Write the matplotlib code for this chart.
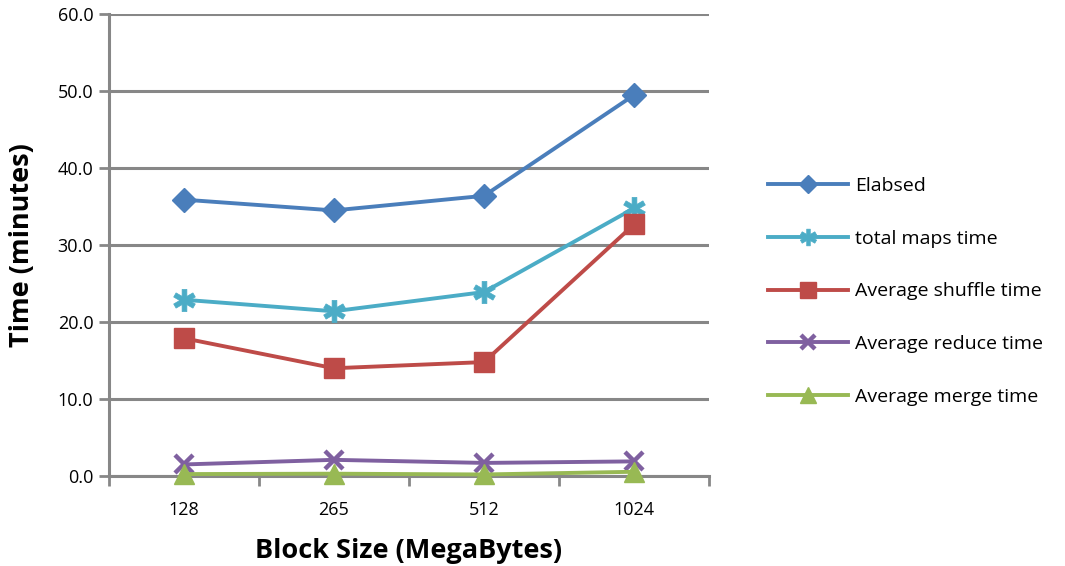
import matplotlib
matplotlib.use("Agg")
import matplotlib.pyplot as plt
from matplotlib.lines import Line2D

categories = ["128", "265", "512", "1024"]
elabsed = [35.9, 34.5, 36.4, 49.5]
total_maps = [22.9, 21.4, 23.9, 34.8]
avg_shuffle = [17.9, 14.0, 14.8, 32.7]
avg_reduce = [1.5, 2.1, 1.7, 1.9]
avg_merge = [0.25, 0.3, 0.2, 0.55]
y_ticks = [0, 10, 20, 30, 40, 50, 60]

series = [
    ("Elabsed", elabsed, "#4a7ebb", "D", 12.5, "none"),
    ("total maps time", total_maps, "#4bacc6", "$\u2731$", 16, None),
    ("Average shuffle time", avg_shuffle, "#be4b48", "s", 14.5, "none"),
    ("Average reduce time", avg_reduce, "#7f60a0", "x", 13.5, None),
    ("Average merge time", avg_merge, "#98b954", "^", 15, "none"),
]

plt.rcParams['font.family'] = ['Open Sans', 'DejaVu Sans']
fig = plt.figure(figsize=(10.65, 5.66), dpi=100)
ax = fig.add_axes([0.102, 0.159, 0.564, 0.816])

xs = [i + 0.5 for i in range(len(categories))]
handles = []
for name, vals, col, mk, ms, mec in series:
    kw = dict(color=col, lw=2.8, marker=mk, markersize=ms, zorder=3)
    if mk == "x":
        kw["markeredgewidth"] = 3.2
    elif mk == "$\u2731$":
        kw["markeredgewidth"] = 0.5
    else:
        kw["markeredgecolor"] = col
    ax.plot(xs, vals, clip_on=False, **kw)
    hk = dict(kw)
    hk["markersize"] = ms * 0.75
    handles.append(Line2D([0], [0], label=name, **hk))

ax.set_xlim(0, 4)
ax.set_ylim(0, 60)
ax.set_yticks(y_ticks)
ax.set_yticklabels([f"{v:.1f}" for v in y_ticks])
ax.set_xticks(xs)
ax.set_xticklabels(categories)
ax.set_xticks([0, 1, 2, 3, 4], minor=True)
ax.tick_params(axis='x', which='major', length=0, labelsize=13, pad=18)
ax.tick_params(axis='x', which='minor', length=7, width=2, color='#878787')
ax.tick_params(axis='y', length=7, width=2, color='#878787', labelsize=13, pad=4)
ax.grid(axis='y', color='#878787', lw=2.2, zorder=0)
for s in ['top', 'right']:
    ax.spines[s].set_visible(False)
ax.spines['left'].set_color('#878787')
ax.spines['left'].set_linewidth(2.2)
ax.spines['bottom'].set_color('#878787')
ax.spines['bottom'].set_linewidth(2.2)
ax.set_axisbelow(True)

ax.set_xlabel("Block Size (MegaBytes)", fontsize=19.5, fontweight='bold', labelpad=14)
ax.set_ylabel("Time (minutes)", fontsize=19.5, fontweight='bold', labelpad=16)

fig.legend(handles=handles, loc='center left', bbox_to_anchor=(0.705, 0.485),
           frameon=False, fontsize=14, handlelength=4.1, labelspacing=1.78,
           handletextpad=0.35)

fig.savefig("out.png", dpi=100)
